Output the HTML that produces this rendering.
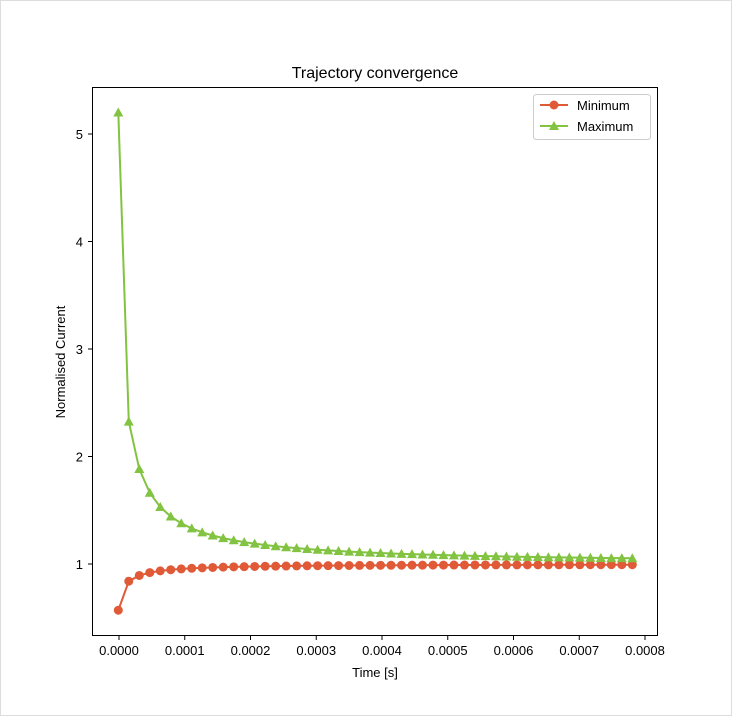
<!DOCTYPE html>
<html><head><style>html,body{margin:0;padding:0;background:#fff}</style></head>
<body>
<svg id="s" width="732" height="716" xmlns="http://www.w3.org/2000/svg" font-family="Liberation Sans, DejaVu Sans, sans-serif" font-size="13">
<rect x="0.5" y="0.5" width="731" height="715" fill="#fff" stroke="#ddd"/>
<text x="375" y="78" font-size="16" text-anchor="middle">Trajectory convergence</text>
<g id="plot"></g>
<rect x="92.5" y="87.5" width="565" height="548" fill="none" stroke="#000" stroke-width="1"/>
<g id="ticks"></g>
<text x="375" y="677" text-anchor="middle">Time [s]</text>
<text transform="translate(65,362) rotate(-90)" text-anchor="middle">Normalised Current</text>
<rect x="533.5" y="94.5" width="117" height="45" rx="3" fill="#fff" stroke="#ccc"/>
<line x1="540" y1="105" x2="568" y2="105" stroke="#e05a38" stroke-width="2"/>
<circle cx="554" cy="105" r="4.5" fill="#e05a38"/>
<text x="577" y="110">Minimum</text>
<line x1="540" y1="126" x2="568" y2="126" stroke="#82c341" stroke-width="2"/>
<polygon points="554,121 559,130 549,130" fill="#82c341"/>
<text x="577" y="131">Maximum</text>
</svg>
<script>
var ns="http://www.w3.org/2000/svg",p=document.getElementById('plot'),t=document.getElementById('ticks');
function Y(v){return 564-(v-1)*107.5}
var mn=[],mx=[];
for(var i=0;i<50;i++){var x=118.3+i*10.49;
var a=i==0?0.57:1-0.32/(i+1), b=i==0?5.2:1+2.65/(i+1);
mn.push([x,Y(a)]);mx.push([x,Y(b)]);}
function line(pts,c){var e=document.createElementNS(ns,'polyline');e.setAttribute('points',pts.map(q=>q.join(',')).join(' '));e.setAttribute('fill','none');e.setAttribute('stroke',c);e.setAttribute('stroke-width','2');p.appendChild(e);}
line(mn,'#e05a38');line(mx,'#82c341');
mn.forEach(q=>{var c=document.createElementNS(ns,'circle');c.setAttribute('cx',q[0]);c.setAttribute('cy',q[1]);c.setAttribute('r',4.5);c.setAttribute('fill','#e05a38');p.appendChild(c);});
mx.forEach(q=>{var c=document.createElementNS(ns,'polygon');var x=q[0],y=q[1];c.setAttribute('points',x+','+(y-5)+' '+(x+5)+','+(y+4)+' '+(x-5)+','+(y+4));c.setAttribute('fill','#82c341');p.appendChild(c);});
var h='';
for(var k=0;k<9;k++){var x=119+k*65.75;h+='<line x1="'+x+'" y1="636" x2="'+x+'" y2="640" stroke="#000"/><text x="'+x+'" y="655" text-anchor="middle">'+(k/10000).toFixed(4)+'</text>';}
for(var v=1;v<=5;v++){var y=Y(v);h+='<line x1="88" y1="'+y+'" x2="92" y2="'+y+'" stroke="#000"/><text x="83" y="'+(y+5)+'" text-anchor="end">'+v+'</text>';}
t.innerHTML=h;
</script>
</body></html>
